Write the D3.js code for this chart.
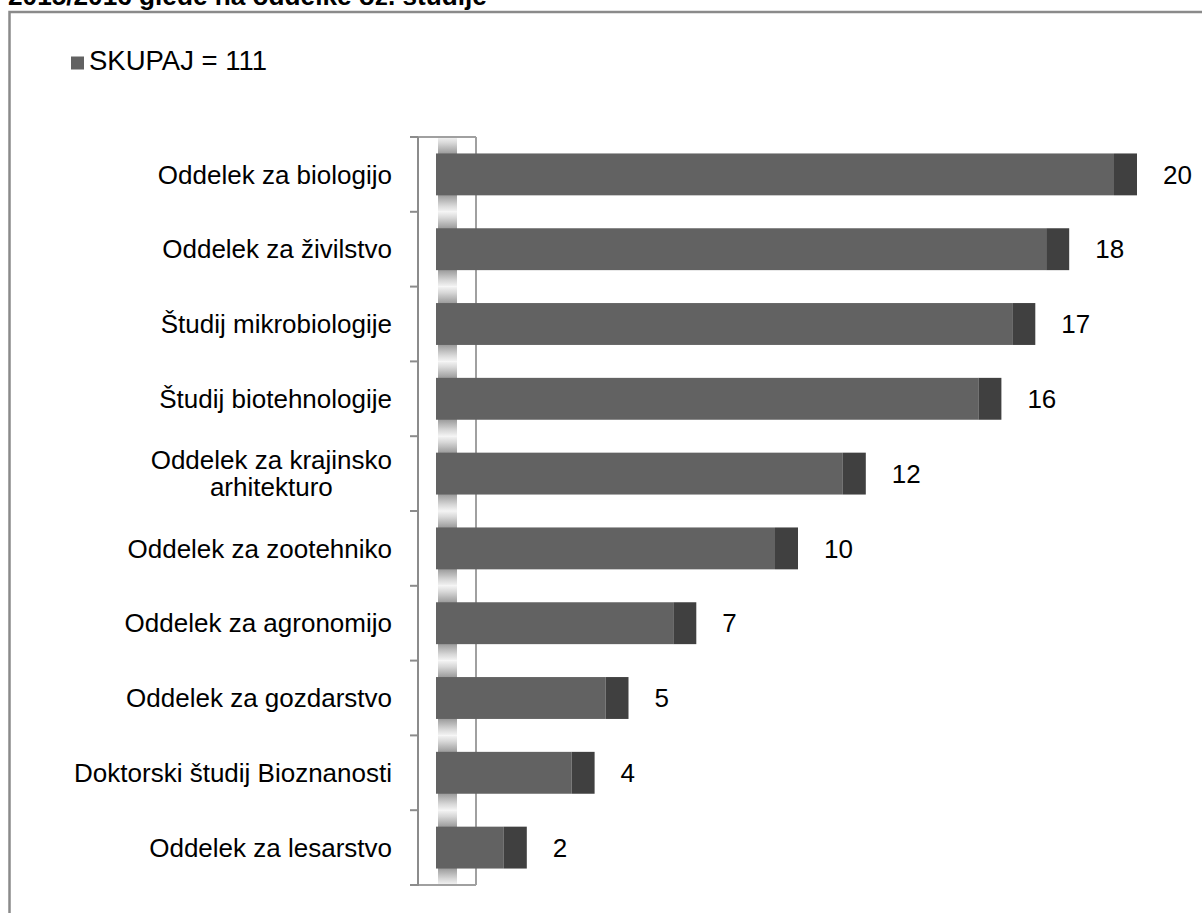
<!DOCTYPE html>
<html>
<head>
<meta charset="utf-8">
<script src="https://cdn.jsdelivr.net/npm/d3@7"></script>
<style>
  html, body { margin: 0; padding: 0; background: #fff; }
  svg { display: block; }
  text { font-family: "Liberation Sans", Arial, sans-serif; fill: #000; }
</style>
</head>
<body>
<svg id="chart" width="1202" height="913"></svg>
<script>
// Number of students per department / study programme
const categories = [
  "Oddelek za biologijo",
  "Oddelek za živilstvo",
  "Študij mikrobiologije",
  "Študij biotehnologije",
  "Oddelek za krajinsko arhitekturo",
  "Oddelek za zootehniko",
  "Oddelek za agronomijo",
  "Oddelek za gozdarstvo",
  "Doktorski študij Bioznanosti",
  "Oddelek za lesarstvo"
];
const values = [20, 18, 17, 16, 12, 10, 7, 5, 4, 2];
const seriesName = "SKUPAJ = 111";
const titleText = "2015/2016 glede na oddelke oz. študije";

// label lines for wrapped category names
const labelLines = {
  "Oddelek za krajinsko arhitekturo": ["Oddelek za krajinsko", "arhitekturo"]
};

const svg = d3.select("#chart");
const W = 1202, H = 913;

// plot geometry
const axisX = 418;       // category axis line
const wallRight = 476;   // back wall right edge
const plotTop = 137, plotBottom = 885;
const barStart = 436;
const depth = 23;        // 3D end-face width
const fontSize = 26;

const x = d3.scaleLinear().domain([0, 20]).range([barStart, barStart + 678]);
const y = d3.scaleBand().domain(categories)
  .range([plotTop, plotBottom])
  .paddingInner(0.44).paddingOuter(0.22);
const step = y.step();

// chart frame
svg.append("rect")
  .attr("x", 9.5).attr("y", 12)
  .attr("width", W + 50).attr("height", H + 50)
  .attr("fill", "none").attr("stroke", "#8a8a8a").attr("stroke-width", 2.5);

// title (runs past the top edge of the frame)
svg.append("text")
  .attr("x", 8).attr("y", 4.5)
  .style("font-weight", "bold")
  .style("font-size", "26.2px")
  .text(titleText);

// legend
svg.append("rect")
  .attr("x", 71).attr("y", 56.5).attr("width", 13).attr("height", 13)
  .attr("fill", "#626262");
svg.append("text")
  .attr("x", 89).attr("y", 69.5)
  .style("font-size", "27.5px")
  .text(seriesName);

// back wall
const defs = svg.append("defs");
const grad = defs.append("linearGradient")
  .attr("id", "wallStripe").attr("x1", 0).attr("x2", 0).attr("y1", 0).attr("y2", 1);
[[0, "#f4f4f4"], [0.08, "#d8d8d8"], [0.22, "#9c9c9c"], [0.78, "#9c9c9c"], [0.92, "#d8d8d8"], [1, "#f4f4f4"]]
  .forEach(([o, c]) => grad.append("stop").attr("offset", o).attr("stop-color", c));

svg.append("rect")
  .attr("x", axisX).attr("y", plotTop)
  .attr("width", wallRight - axisX).attr("height", plotBottom - plotTop)
  .attr("fill", "#fff");

svg.append("g").selectAll("rect")
  .data(categories)
  .join("rect")
  .attr("x", 438).attr("width", 19)
  .attr("y", d => y(d) - y.paddingOuter() * step)
  .attr("height", step)
  .attr("fill", "url(#wallStripe)");

// wall edges
const edge = svg.append("g").attr("stroke", "#a0a0a0").attr("stroke-width", 2).attr("fill", "none");
edge.append("line").attr("x1", wallRight).attr("x2", wallRight).attr("y1", plotTop).attr("y2", plotBottom);
edge.append("line").attr("x1", axisX).attr("x2", wallRight).attr("y1", plotTop).attr("y2", plotTop);
edge.append("line").attr("x1", axisX).attr("x2", wallRight).attr("y1", plotBottom).attr("y2", plotBottom);

// category axis with ticks at band boundaries
const axis = svg.append("g").attr("stroke", "#8c8c8c").attr("stroke-width", 2);
axis.append("line").attr("x1", axisX).attr("x2", axisX).attr("y1", plotTop).attr("y2", plotBottom + 1);
d3.range(categories.length + 1).forEach(i => {
  const ty = plotTop + i * step;
  axis.append("line").attr("x1", axisX - 8).attr("x2", axisX).attr("y1", ty).attr("y2", ty);
});

// bars
const bars = svg.append("g").selectAll("g")
  .data(categories.map((c, i) => ({ c, v: values[i] })))
  .join("g");

bars.append("rect")
  .attr("x", x(0))
  .attr("y", d => y(d.c))
  .attr("width", d => x(d.v) - x(0))
  .attr("height", y.bandwidth())
  .attr("fill", "#626262");

bars.append("rect")
  .attr("x", d => x(d.v))
  .attr("y", d => y(d.c))
  .attr("width", depth)
  .attr("height", y.bandwidth())
  .attr("fill", "#404040");

// value labels
bars.append("text")
  .attr("x", d => x(d.v) + depth + 26)
  .attr("y", d => y(d.c) + y.bandwidth() / 2)
  .attr("dy", "0.35em")
  .style("font-size", fontSize + "px")
  .text(d => d.v);

// category labels
const labels = svg.append("g").selectAll("text")
  .data(categories)
  .join("text")
  .style("font-size", fontSize + "px")
  .attr("text-anchor", "middle")
  .attr("y", d => y(d) + y.bandwidth() / 2);

labels.each(function (d) {
  const lines = labelLines[d] || [d];
  const t = d3.select(this);
  const lh = 27;
  const y0 = -(lines.length - 1) * lh / 2;
  lines.forEach((ln, i) => {
    t.append("tspan").attr("dy", i === 0 ? (y0 + 0.35 * fontSize) : lh).text(ln);
  });
  // right-align the block at x = 392, centre lines within it
  const widths = [];
  t.selectAll("tspan").each(function () { widths.push(this.getComputedTextLength()); });
  const wmax = d3.max(widths);
  t.selectAll("tspan").attr("x", 392 - wmax / 2);
});
</script>
</body>
</html>
